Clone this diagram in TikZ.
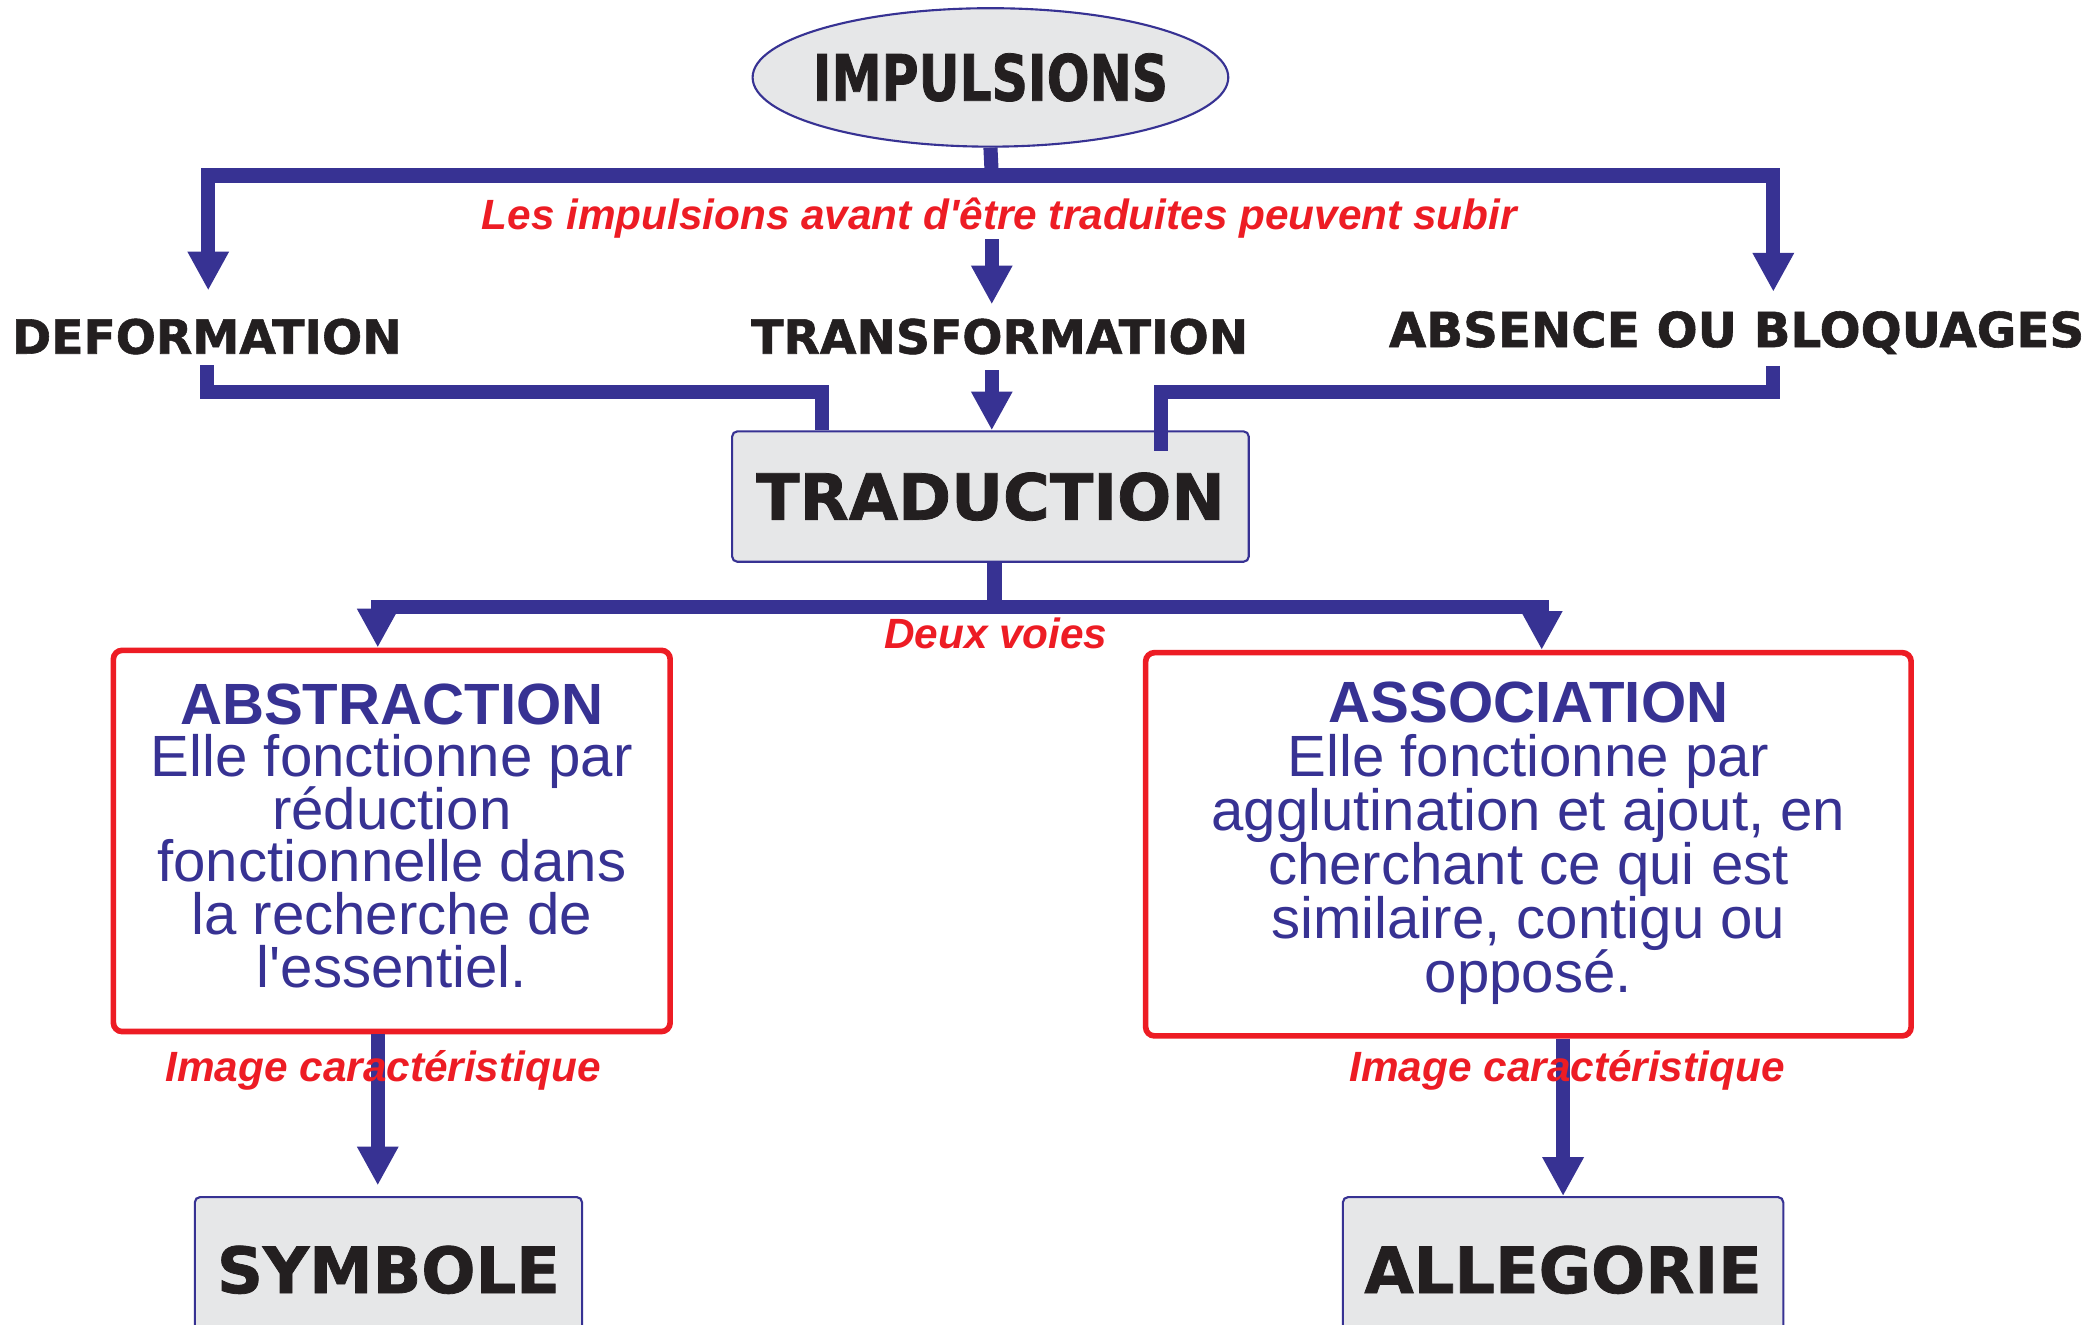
\documentclass[tikz,border=0pt]{standalone}
\usepackage{fontspec}
\setmainfont{Liberation Sans}[Ligatures=TeXOff]
\newfontfamily\heavyfont{DejaVu Sans}[FakeBold=1.2]
\newfontfamily\narrowfont{DejaVu Sans}[FakeStretch=0.79, FakeBold=1.2]
\usetikzlibrary{shapes,arrows.meta,positioning,calc}
\setlength{\lineskiplimit}{-20pt}

\definecolor{navy}{HTML}{373293}
\definecolor{redtxt}{HTML}{ED1C24}
\definecolor{boxgray}{HTML}{E6E7E8}
\definecolor{inkblack}{HTML}{231F20}

\begin{document}
\begin{tikzpicture}[x=0.0133cm, y=-0.0133cm]
        % Define styles
        \tikzstyle{oval} = [ellipse, draw=navy, line width=0.6pt, fill=boxgray,
            minimum height=1.38cm, inner xsep=-2.7pt, inner ysep=0pt, text=inkblack,
            font=\narrowfont\bfseries\fontsize{18.1}{20}\selectfont]
        \tikzstyle{graybox} = [rectangle, draw=navy, line width=0.6pt, fill=boxgray,
            rounded corners=1.5pt, inner sep=0pt, text=inkblack,
            font=\heavyfont\bfseries\fontsize{18.1}{20}\selectfont]
        \tikzstyle{way} = [rectangle, draw=redtxt, line width=1.6pt, rounded corners=2.5pt]
        \tikzstyle{waytext} = [align=center, text=navy, inner sep=0pt,
            font=\fontsize{16.5}{14.9}\selectfont]
        \tikzstyle{stage} = [inner sep=0pt, anchor=base, text=inkblack,
            font=\heavyfont\bfseries\fontsize{13.4}{16}\selectfont]
        \tikzstyle{remark} = [inner sep=0pt, anchor=base, text=redtxt,
            font=\bfseries\itshape\fontsize{12}{14}\selectfont]
        \tikzstyle{link} = [draw=navy, line width=4pt]
        \tikzstyle{arrow} = [link, -{Triangle[width=11pt,length=11pt]}]

        \path [use as bounding box, fill=white] (0,0) rectangle (1568,992);
        \clip (0,0) rectangle (1568,992);

        % Nodes
        \node [oval] (impulsions) at (742,58) {IMPULSIONS};
        \node [remark] (note) at (748.6,172) {Les impulsions avant d'être traduites peuvent subir};
        \node [stage] (deformation) at (155,265) {DEFORMATION};
        \node [stage] (transformation) at (749,265) {TRANSFORMATION};
        \node [stage, font=\heavyfont\bfseries\fontsize{13.7}{16}\selectfont] (absence) at (1301,260) {ABSENCE OU BLOQUAGES};
        \node [graybox, minimum width=5.15cm, minimum height=1.30cm] (traduction) at (742,372) {TRADUCTION};
        \node [remark] (voies) at (746,486) {Deux voies};
        \node [way, minimum width=5.55cm, minimum height=3.80cm] (abstraction) at (293.5,630) {};
        \node [waytext] (abstractiontext) at ([yshift=1.5pt]abstraction.center)
            {\textbf{ABSTRACTION}\\Elle fonctionne par\\réduction\\fonctionnelle dans\\la recherche de\\l'essentiel.};
        \node [way, minimum width=7.63cm, minimum height=3.82cm] (association) at (1145,632.5) {};
        \node [waytext, font=\fontsize{16.5}{15.3}\selectfont] (associationtext) at ([yshift=0.3pt]association.center)
            {\textbf{ASSOCIATION}\\Elle fonctionne par\\agglutination et ajout, en\\cherchant ce qui est\\similaire, contigu ou\\opposé.};
        \node [graybox, anchor=north, minimum width=3.86cm, minimum height=1.45cm] (symbole) at (291,896) {SYMBOLE};
        \node [graybox, anchor=north, minimum width=4.39cm, minimum height=1.45cm] (allegorie) at (1171,896) {ALLEGORIE};

        % Arrows
        \coordinate (midcol) at (743,0);
        \coordinate (topsplit) at (743,131.5);
        \coordinate (topleft) at (156,131.5);
        \coordinate (topright) at (1328.5,131.5);
        \draw [link] (impulsions.south) -- (topsplit);
        \draw [arrow, shorten >=0.275cm] (topsplit) -- (topleft) -- (topleft |- deformation.north);
        \draw [arrow, shorten >=0.187cm] (topsplit) -- (topright) -- (topright |- absence.north);
        \draw [arrow, shorten >=0.136cm] (note.south -| midcol) -- (transformation.north -| midcol);
        \draw [arrow, shorten <=0.15cm] (transformation.south -| midcol) -- (traduction.north -| midcol);

        \coordinate (joinleft) at (615.8,294);
        \coordinate (joinright) at (869.7,294);
        \draw [link, shorten <=0.1cm] (deformation.south) |- (joinleft) -- (joinleft |- traduction.north);
        \draw [link, shorten <=0.11cm] (absence.south -| topright) |- (joinright)
            -- ($(joinright |- traduction.north)+(0,15.6)$);

        \coordinate (lowsplit) at (745,455);
        \coordinate (lowleft) at (283,455);
        \coordinate (lowright) at (1155,455);
        \draw [link] (traduction.south -| lowsplit) -- (lowsplit);
        \draw [arrow] (lowsplit) -- (lowleft) -- (lowleft |- abstraction.north);
        \draw [arrow] (lowsplit) -- (lowright) -- (lowright |- association.north);

        \draw [arrow, shorten >=0.106cm] (abstraction.south -| lowleft) -- (lowleft |- symbole.north);
        \draw [arrow] (association.south -| allegorie.north) -- (allegorie.north);

        % Characteristic image
        \node [remark] (imageleft) at (287,810) {Image caractéristique};
        \node [remark] (imageright) at (1174,810) {Image caractéristique};
    \end{tikzpicture}
\end{document}
